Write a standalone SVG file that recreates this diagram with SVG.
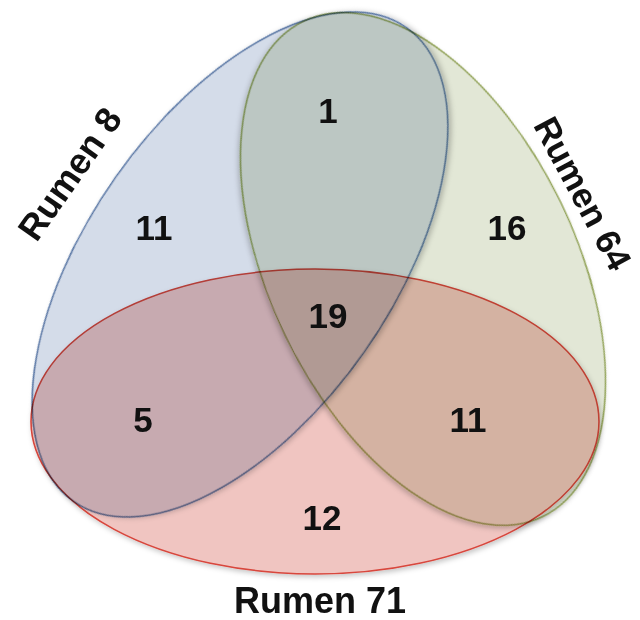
<svg xmlns="http://www.w3.org/2000/svg" width="640" height="620" viewBox="0 0 640 620">
  <defs>
    <filter id="shadow" x="-10%" y="-10%" width="120%" height="120%">
      <feDropShadow dx="1.5" dy="2.5" stdDeviation="2.5" flood-color="#000000" flood-opacity="0.22"/>
    </filter>
  </defs>
  <style>
    .set { mix-blend-mode: multiply; stroke-width: 1.6; filter: url(#shadow); }
    .num { font-family: "Liberation Sans", Arial, sans-serif; font-weight: bold; font-size: 35px; fill: #111; text-anchor: middle; }
    .lbl { font-family: "Liberation Sans", Arial, sans-serif; font-weight: bold; font-size: 36px; fill: #111; text-anchor: middle; }
  </style>
  <rect x="0" y="0" width="640" height="620" fill="#ffffff"/>
  <g id="venn">
    <g id="rumen8">
      <ellipse class="set" cx="240" cy="264.5" rx="289.5" ry="152" transform="rotate(-54.9 240 264.5)" fill="#d4dce9" stroke="#5a78a6"/>
    </g>
    <g id="rumen64">
      <ellipse class="set" cx="423" cy="269" rx="275" ry="153" transform="rotate(64.2 423 269)" fill="#e2e7d6" stroke="#94a55a"/>
    </g>
    <g id="rumen71">
      <ellipse class="set" cx="315" cy="421.5" rx="284" ry="152.5" fill="#f0c5c1" stroke="#d8463c"/>
    </g>
  </g>
  <g id="labels">
    <text class="lbl" transform="translate(80 181) rotate(-55)">Rumen 8</text>
    <text class="lbl" style="font-size:35px" transform="translate(572 199) rotate(62)">Rumen 64</text>
    <text class="lbl" x="320" y="613">Rumen 71</text>
  </g>
  <g id="counts">
    <text class="num" x="328" y="123">1</text>
    <text class="num" x="154" y="240">11</text>
    <text class="num" x="507" y="240">16</text>
    <text class="num" x="328" y="328">19</text>
    <text class="num" x="143" y="432">5</text>
    <text class="num" x="468" y="432">11</text>
    <text class="num" x="322" y="530">12</text>
  </g>
</svg>
